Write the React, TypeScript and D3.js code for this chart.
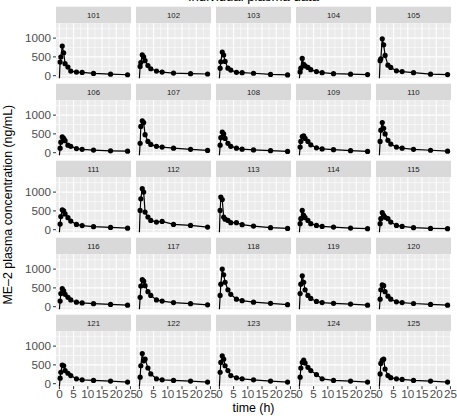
import React from 'react';
import * as d3 from 'd3';

const subjects = ['101','102','103','104','105','106','107','108','109','110','111','112','113','114','115','116','117','118','119','120','121','122','123','124','125'];
const times = [0.25, 0.5, 1, 1.5, 2, 3, 4, 6, 8, 12, 18, 24];

const c101 = [363, 496, 787, 610, 320, 229, 122, 96, 88, 61, 40, 25];
const c102 = [248, 350, 557, 500, 400, 270, 185, 124, 97, 70, 53, 45];
const c103 = [200, 370, 630, 550, 380, 200, 150, 90, 80, 65, 35, 20];
const c104 = [100, 200, 460, 300, 260, 220, 160, 110, 80, 55, 40, 30];
const c105 = [400, 450, 980, 820, 540, 280, 220, 130, 110, 80, 40, 30];
const c106 = [120, 280, 420, 380, 320, 200, 170, 110, 90, 70, 50, 40];
const c107 = [250, 700, 850, 800, 480, 300, 220, 170, 150, 120, 90, 60];
const c108 = [200, 400, 550, 500, 380, 250, 170, 120, 95, 75, 55, 35];
const c109 = [150, 300, 430, 450, 380, 300, 210, 130, 100, 80, 55, 35];
const c110 = [300, 600, 800, 650, 500, 330, 230, 150, 120, 90, 65, 40];
const c111 = [150, 350, 530, 500, 420, 320, 230, 140, 110, 80, 60, 40];
const c112 = [513, 822, 1090, 1000, 468, 335, 247, 202, 221, 141, 114, 69];
const c113 = [513, 867, 800, 335, 280, 247, 186, 186, 133, 96, 53, 35];
const c114 = [160, 293, 513, 380, 320, 247, 160, 114, 88, 69, 43, 27];
const c115 = [160, 293, 452, 380, 330, 293, 202, 114, 88, 53, 35, 27];
const c116 = [150, 350, 480, 420, 330, 250, 180, 120, 100, 80, 60, 40];
const c117 = [250, 550, 720, 680, 560, 400, 300, 180, 150, 110, 80, 50];
const c118 = [300, 600, 1000, 850, 650, 450, 330, 200, 160, 120, 90, 55];
const c119 = [350, 600, 820, 650, 450, 300, 220, 140, 110, 90, 70, 40];
const c120 = [200, 450, 580, 560, 400, 280, 200, 130, 110, 85, 60, 40];
const c121 = [148, 304, 496, 478, 348, 278, 217, 130, 104, 87, 70, 43];
const c122 = [174, 478, 800, 609, 652, 417, 261, 130, 104, 87, 70, 43];
const c123 = [304, 565, 739, 652, 478, 348, 217, 157, 130, 104, 70, 43];
const c124 = [174, 417, 565, 626, 548, 435, 348, 243, 130, 87, 70, 43];
const c125 = [261, 539, 626, 652, 391, 217, 160, 130, 113, 87, 70, 43];

const concBySubject = [c101, c102, c103, c104, c105, c106, c107, c108, c109, c110, c111, c112, c113, c114, c115, c116, c117, c118, c119, c120, c121, c122, c123, c124, c125];

const xTicks = [0, 5, 10, 15, 20, 25];
const xMinor = [2.5, 7.5, 12.5, 17.5, 22.5];
const yTicks = [0, 500, 1000];
const yMinor = [250, 750, 1250];
const yDataMax = 1330;

const W = 457, H = 416;
const colLeft0 = 56, colPitch = 80, panelW = 75;
const stripTop0 = 6.7, rowPitch = 77, stripH = 16.5, panelH = 55;
const font = 'Liberation Sans, Arial, Helvetica, sans-serif';

export default function App() {
  const tMax = d3.max(times) as number;
  const x = d3.scaleLinear().domain([-0.05 * tMax, tMax * 1.05]).range([0, panelW]);
  const y = d3.scaleLinear().domain([-0.05 * yDataMax, yDataMax * 1.05]).range([panelH, 0]);
  const line = d3.line<[number, number]>().x(d => x(d[0])).y(d => y(d[1]));

  const nRows = 5;
  const lastBottom = stripTop0 + (nRows - 1) * rowPitch + stripH + panelH;
  const panelsMidY = (stripTop0 + stripH + lastBottom) / 2;
  const panelsMidX = (colLeft0 + 4 * colPitch + panelW + colLeft0) / 2;

  return (
    <svg width={W} height={H} style={{ position: 'absolute', left: 0, top: 0, background: '#fff' }} fontFamily={font}>
      <text x={panelsMidX} y={1.2} textAnchor="middle" fontSize={13.2} fill="#000">Individual plasma data</text>
      {subjects.map((s, i) => {
        const r = Math.floor(i / 5), c = i % 5;
        const left = colLeft0 + c * colPitch;
        const stripTop = stripTop0 + r * rowPitch;
        const top = stripTop + stripH;
        const data: [number, number][] = times.map((t, k) => [t, concBySubject[i][k]]);
        const pathD = line(data) as string;
        const first = data[0];
        return (
          <g key={s}>
            <rect x={left} y={stripTop} width={panelW} height={stripH} fill="#D9D9D9" />
            <text x={left + panelW / 2} y={stripTop + stripH / 2 + 2.8} textAnchor="middle" fontSize={7.8} fill="#1A1A1A">{s}</text>
            <g transform={`translate(${left},${top})`}>
              <rect x={0} y={0} width={panelW} height={panelH} fill="#EBEBEB" />
              {xMinor.map(v => <line key={'xm' + v} x1={x(v)} x2={x(v)} y1={0} y2={panelH} stroke="#fff" strokeWidth={0.55} />)}
              {yMinor.map(v => <line key={'ym' + v} x1={0} x2={panelW} y1={y(v)} y2={y(v)} stroke="#fff" strokeWidth={0.55} />)}
              {xTicks.map(v => <line key={'xM' + v} x1={x(v)} x2={x(v)} y1={0} y2={panelH} stroke="#fff" strokeWidth={1.1} />)}
              {yTicks.map(v => <line key={'yM' + v} x1={0} x2={panelW} y1={y(v)} y2={y(v)} stroke="#fff" strokeWidth={1.1} />)}
              <line x1={x(0)} x2={x(first[0])} y1={panelH} y2={y(first[1])} stroke="#000" strokeWidth={1.2} />
              <path d={pathD} fill="none" stroke="#000" strokeWidth={1.2} />
              {data.map((d, k) => <circle key={k} cx={x(d[0])} cy={y(d[1])} r={2.6} fill="#000" />)}
              {c === 0 && yTicks.map(v => (
                <g key={'yt' + v}>
                  <line x1={-3} x2={0} y1={y(v)} y2={y(v)} stroke="#333" strokeWidth={1} />
                  <text x={-5} y={y(v) + 4.1} textAnchor="end" fontSize={11.7} fill="#4D4D4D">{v}</text>
                </g>
              ))}
              {r === nRows - 1 && xTicks.map(v => (
                <g key={'xt' + v}>
                  <line x1={x(v)} x2={x(v)} y1={panelH} y2={panelH + 3} stroke="#333" strokeWidth={1} />
                  <text x={x(v)} y={panelH + 11.5} textAnchor="middle" fontSize={11.7} fill="#4D4D4D">{v}</text>
                </g>
              ))}
            </g>
          </g>
        );
      })}
      <text x={panelsMidX} y={411.5} textAnchor="middle" fontSize={12.4} fill="#000">time (h)</text>
      <text transform={`translate(12,${panelsMidY}) rotate(-90)`} textAnchor="middle" fontSize={12.4} fill="#000">ME–2 plasma concentration (ng/mL)</text>
    </svg>
  );
}
